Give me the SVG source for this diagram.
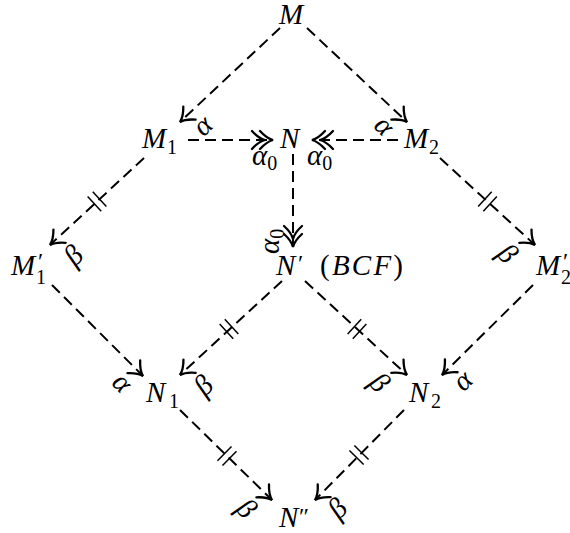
<svg xmlns="http://www.w3.org/2000/svg" xmlns:xlink="http://www.w3.org/1999/xlink" width="570" height="533" viewBox="0 0 570 533">
<style>
.bg{fill:#fff}
.t{font-style:italic;font-size:29px}
.s{font-style:normal;font-size:20px}
.p{font-style:normal;font-size:24px}
.u{font-style:normal;font-size:29px}
.e{fill:none;stroke:#000;stroke-width:2;stroke-dasharray:11 6}
.ar{fill:none;stroke:#000;stroke-width:2.3;stroke-linecap:round}
.tk line{stroke:#000;stroke-width:1.5}
</style>
<defs>
<marker id="h1" markerUnits="userSpaceOnUse" orient="auto" overflow="visible" markerWidth="1" markerHeight="1" refX="0" refY="0">
<path class="ar" d="M-13,-9 C-8,-3.5 -4,-1 0,0 C-4,1 -8,3.5 -13,9"/>
</marker>
<marker id="h2" markerUnits="userSpaceOnUse" orient="auto" overflow="visible" markerWidth="1" markerHeight="1" refX="0" refY="0">
<path class="ar" d="M-13,-9 C-8,-3.5 -4,-1 0,0 C-4,1 -8,3.5 -13,9 M-21,-9 C-16,-3.5 -12,-1 -8,0 C-12,1 -16,3.5 -21,9"/>
</marker>
<g id="tk" class="tk"><line x1="-3.5" y1="-10" x2="-3.5" y2="10"/><line x1="3.5" y1="-10" x2="3.5" y2="10"/></g>
</defs>
<rect class="bg" x="0" y="0" width="570" height="533"/>

<g id="connectors">
<path class="e" d="M280,28 L180,122" marker-end="url(#h1)"/>
<path class="e" d="M307,28 L407,122" marker-end="url(#h1)"/>
<path class="e" d="M188,140 L273,140" marker-end="url(#h2)"/>
<path class="e" d="M398,140 L312,140" marker-end="url(#h2)"/>
<path class="e" d="M293,154 L293,247" marker-end="url(#h2)"/>
<path class="e" d="M144,158 L50,245" marker-end="url(#h1)"/>
<path class="e" d="M440,158 L535,245" marker-end="url(#h1)"/>
<path class="e" d="M52,285 L143,376" marker-end="url(#h1)"/>
<path class="e" d="M282,281 L180,375" marker-end="url(#h1)"/>
<path class="e" d="M305,281 L407,375" marker-end="url(#h1)"/>
<path class="e" d="M533,285 L442,375" marker-end="url(#h1)"/>
<path class="e" d="M180,410 L272,500" marker-end="url(#h1)"/>
<path class="e" d="M404,410 L315,500" marker-end="url(#h1)"/>
<use xlink:href="#tk" transform="translate(97,201.5) rotate(137.2)"/>
<use xlink:href="#tk" transform="translate(487.5,201.5) rotate(42.5)"/>
<use xlink:href="#tk" transform="translate(229,329) rotate(137.3)"/>
<use xlink:href="#tk" transform="translate(357,329) rotate(42.7)"/>
<use xlink:href="#tk" transform="translate(227,456) rotate(44.4)"/>
<use xlink:href="#tk" transform="translate(359,455) rotate(134.7)"/>
</g>

<g font-family="Liberation Serif, serif" fill="#000">
<g id="labels">
<text class="t" text-anchor="middle" dominant-baseline="central" transform="translate(202,125) rotate(-45)">α</text>
<text class="t" text-anchor="middle" dominant-baseline="central" transform="translate(385,125) rotate(45)">α</text>
<text class="t" x="252" y="165">α<tspan class="s" dy="5">0</tspan></text>
<text class="t" x="307" y="165">α<tspan class="s" dy="5">0</tspan></text>
<text class="t" transform="translate(279,254) rotate(-90)">α<tspan class="s" dy="5">0</tspan></text>
<text class="t" text-anchor="middle" dominant-baseline="central" transform="translate(73,255) rotate(-45)">β</text>
<text class="t" text-anchor="middle" dominant-baseline="central" transform="translate(508,253) rotate(45)">β</text>
<text class="t" text-anchor="middle" dominant-baseline="central" transform="translate(123,382) rotate(45)">α</text>
<text class="t" text-anchor="middle" dominant-baseline="central" transform="translate(203,385) rotate(-45)">β</text>
<text class="t" text-anchor="middle" dominant-baseline="central" transform="translate(380,382) rotate(45)">β</text>
<text class="t" text-anchor="middle" dominant-baseline="central" transform="translate(462,380) rotate(-45)">α</text>
<text class="t" text-anchor="middle" dominant-baseline="central" transform="translate(247,508) rotate(45)">β</text>
<text class="t" text-anchor="middle" dominant-baseline="central" transform="translate(337,508) rotate(-45)">β</text>
</g>

<g id="node-M"><text class="t" x="279" y="24">M</text></g>
<g id="node-M1"><text class="t" x="142" y="148">M</text><text class="s" x="167" y="154">1</text></g>
<g id="node-N"><text class="t" x="280" y="148">N</text></g>
<g id="node-M2"><text class="t" x="404" y="148">M</text><text class="s" x="429" y="154">2</text></g>
<g id="node-M1p"><text class="t" x="11" y="275">M</text><text class="p" x="38" y="269">′</text><text class="s" x="36" y="284">1</text></g>
<g id="node-Np"><text class="t" x="276" y="275">N</text><text class="p" x="298" y="271">′</text><text class="u" x="320" y="275" textLength="83" lengthAdjust="spacing">(<tspan class="t">BCF</tspan>)</text></g>
<g id="node-M2p"><text class="t" x="536" y="275">M</text><text class="p" x="563" y="269">′</text><text class="s" x="561" y="284">2</text></g>
<g id="node-N1"><text class="t" x="146" y="402">N</text><text class="s" x="169" y="408">1</text></g>
<g id="node-N2"><text class="t" x="409" y="402">N</text><text class="s" x="431" y="408">2</text></g>
<g id="node-Npp"><text class="t" x="279" y="527">N</text><text class="p" x="299" y="524">″</text></g>
</g>
</svg>
